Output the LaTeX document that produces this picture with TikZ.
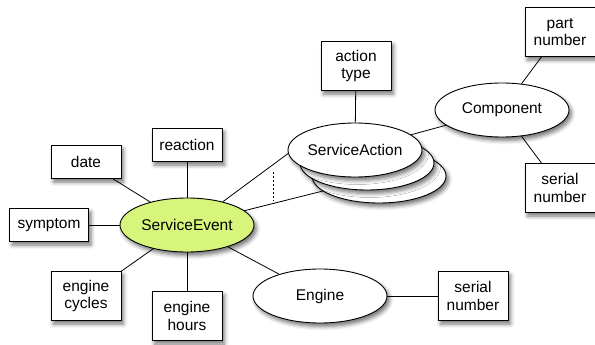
\documentclass[tikz,border=0pt]{standalone}
\usepackage{fontspec}
\setmainfont{Liberation Sans}
\usetikzlibrary{shapes.geometric,shadows.blur}
\definecolor{eventgreen}{HTML}{D6F57A}
\tikzset{
  x=1pt, y=-1pt,
  every node/.style={font=\fontsize{15.5}{17.7}\selectfont, align=center, inner sep=0pt},
  softshadow/.style={blur shadow={shadow xshift=2.5pt, shadow yshift=-3.5pt, shadow blur radius=4pt, shadow opacity=55}},
  entity/.style={ellipse, draw=black, line width=0.9pt, fill=white, minimum width=134pt, minimum height=54pt, softshadow},
  attr/.style={rectangle, draw=black, line width=0.9pt, fill=white, minimum width=70pt, minimum height=33pt, softshadow},
  attrtwo/.style={attr, minimum height=49pt},
  link/.style={draw=black, line width=0.8pt}
}
\begin{document}
\begin{tikzpicture}
\useasboundingbox (0,0) rectangle (595,345);

% central event entity and its attributes
\node[entity, fill=eventgreen] (se) at (187,225) {ServiceEvent};
\node[attr] (date) at (86,162) {date};
\node[attr] (reaction) at (187,145) {reaction};
\node[attr, minimum width=79pt] (symptom) at (49,225) {symptom};
\node[attrtwo] (cycles) at (86,296) {engine\\cycles};
\node[attrtwo] (hours) at (187,316) {engine\\hours};

% stacked service actions (many)
\node[entity] (sa3) at (379,176) {};
\node[entity] (sa2) at (367,163) {};
\node[entity] (sa) at (355,150) {ServiceAction};
\node[attrtwo] (atype) at (356,66) {action\\type};

% component and its attributes
\node[entity] (comp) at (502,110) {Component};
\node[attrtwo] (part) at (560,32) {part\\number};
\node[attrtwo] (cserial) at (560,188) {serial\\number};

% engine and its serial number
\node[entity] (engine) at (320,296) {Engine};
\node[attrtwo] (eserial) at (473,296) {serial\\number};

% connectors
\draw[link] (date) -- (se);
\draw[link] (reaction) -- (se);
\draw[link] (symptom) -- (se);
\draw[link] (cycles) -- (se);
\draw[link] (hours) -- (se);
\draw[link] (se) -- (engine);
\draw[link] (engine) -- (eserial);
\draw[link] (se.33) -- (sa.183);
\draw[link] (se.14) -- (sa3.195);
\draw[link] (atype) -- (sa);
\draw[link] (sa) -- (comp);
\draw[link] (comp) -- (part);
\draw[link] (comp) -- (cserial);

% multiplicity mark between the two action links
\coordinate (dtop) at (273,172);
\coordinate (dbot) at (273,201);
\draw[black, line width=0.8pt, dash pattern=on 1.5pt off 2.5pt] (dtop) -- (dbot);
\end{tikzpicture}
\end{document}
